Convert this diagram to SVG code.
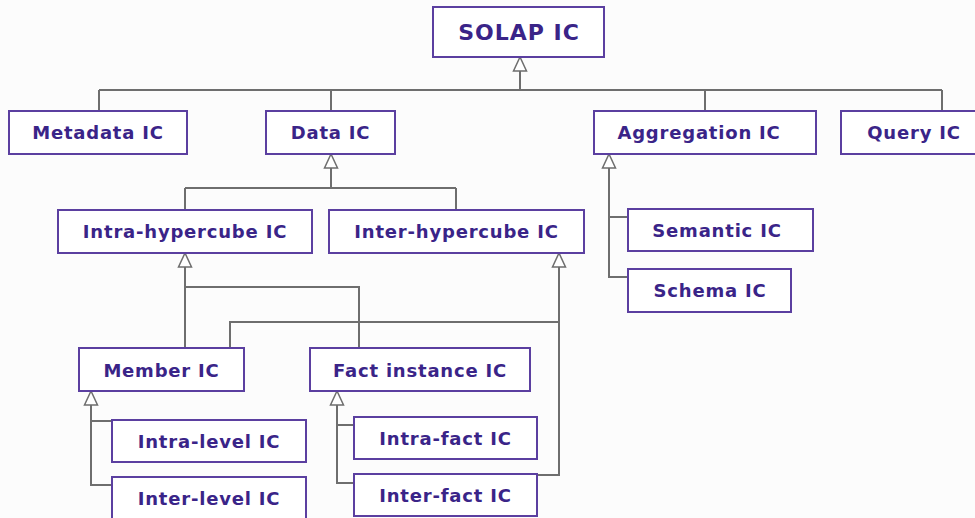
<svg xmlns="http://www.w3.org/2000/svg" width="975" height="518" viewBox="0 0 975 518">
<style>
.box{fill:#ffffff;stroke:#5b3fa0;stroke-width:2}
.lbl{font-family:"DejaVu Sans","Liberation Sans",sans-serif;font-weight:bold;font-size:18px;letter-spacing:0.8px;fill:#3a2488;text-anchor:middle}
.big{font-size:22px;letter-spacing:1px}
.ln{fill:none;stroke:#6e6e6e;stroke-width:2}
.tri{fill:#ffffff;stroke:#6e6e6e;stroke-width:1.5}
</style>
<rect width="975" height="518" fill="#fcfcfc"/>
<g id="connectors">
<path class="ln" d="M520,71V90M99,90H942M99,90V111M331,90V111M705,90V111M942,90V111"/>
<path class="ln" d="M331,168V188M185,188H456M185,188V210M456,188V210"/>
<path class="ln" d="M609,168V277H628M609,217H628"/>
<path class="ln" d="M185,267V348M185,287H359V348"/>
<path class="ln" d="M559,267V475H537M230,348V322H559"/>
<path class="ln" d="M91,405V485H112M91,421H112"/>
<path class="ln" d="M337,405V483H354M337,425H354"/>
<polygon class="tri" points="520,57 513.5,71 526.5,71"/>
<polygon class="tri" points="331,154 324.5,168 337.5,168"/>
<polygon class="tri" points="609,154 602.5,168 615.5,168"/>
<polygon class="tri" points="185,253 178.5,267 191.5,267"/>
<polygon class="tri" points="559,253 552.5,267 565.5,267"/>
<polygon class="tri" points="91,391 84.5,405 97.5,405"/>
<polygon class="tri" points="337,391 330.5,405 343.5,405"/>
</g>
<g id="solap"><rect class="box" x="433" y="7" width="171" height="50"/><text class="lbl big" x="519" y="40">SOLAP IC</text></g>
<g id="metadata"><rect class="box" x="9" y="111" width="178" height="43"/><text class="lbl" x="98" y="139">Metadata IC</text></g>
<g id="data"><rect class="box" x="266" y="111" width="129" height="43"/><text class="lbl" x="330.5" y="139">Data IC</text></g>
<g id="aggregation"><rect class="box" x="594" y="111" width="222" height="43"/><text class="lbl" x="699" y="139">Aggregation IC</text></g>
<g id="query"><rect class="box" x="841" y="111" width="150" height="43"/><text class="lbl" x="914" y="139">Query IC</text></g>
<g id="intra-hypercube"><rect class="box" x="58" y="210" width="254" height="43"/><text class="lbl" x="185" y="238">Intra-hypercube IC</text></g>
<g id="inter-hypercube"><rect class="box" x="329" y="210" width="255" height="43"/><text class="lbl" x="456.5" y="238">Inter-hypercube IC</text></g>
<g id="semantic"><rect class="box" x="628" y="209" width="185" height="42"/><text class="lbl" x="717" y="237">Semantic IC</text></g>
<g id="schema"><rect class="box" x="628" y="269" width="163" height="43"/><text class="lbl" x="710" y="297">Schema IC</text></g>
<g id="member"><rect class="box" x="79" y="348" width="165" height="43"/><text class="lbl" x="161.5" y="377">Member IC</text></g>
<g id="fact-instance"><rect class="box" x="310" y="348" width="220" height="43"/><text class="lbl" x="420" y="377">Fact instance IC</text></g>
<g id="intra-level"><rect class="box" x="112" y="420" width="194" height="42"/><text class="lbl" x="209" y="448">Intra-level IC</text></g>
<g id="inter-level"><rect class="box" x="112" y="477" width="194" height="50"/><text class="lbl" x="209" y="505">Inter-level IC</text></g>
<g id="intra-fact"><rect class="box" x="354" y="417" width="183" height="42"/><text class="lbl" x="445.5" y="445">Intra-fact IC</text></g>
<g id="inter-fact"><rect class="box" x="354" y="474" width="183" height="42"/><text class="lbl" x="445.5" y="502">Inter-fact IC</text></g>
</svg>
